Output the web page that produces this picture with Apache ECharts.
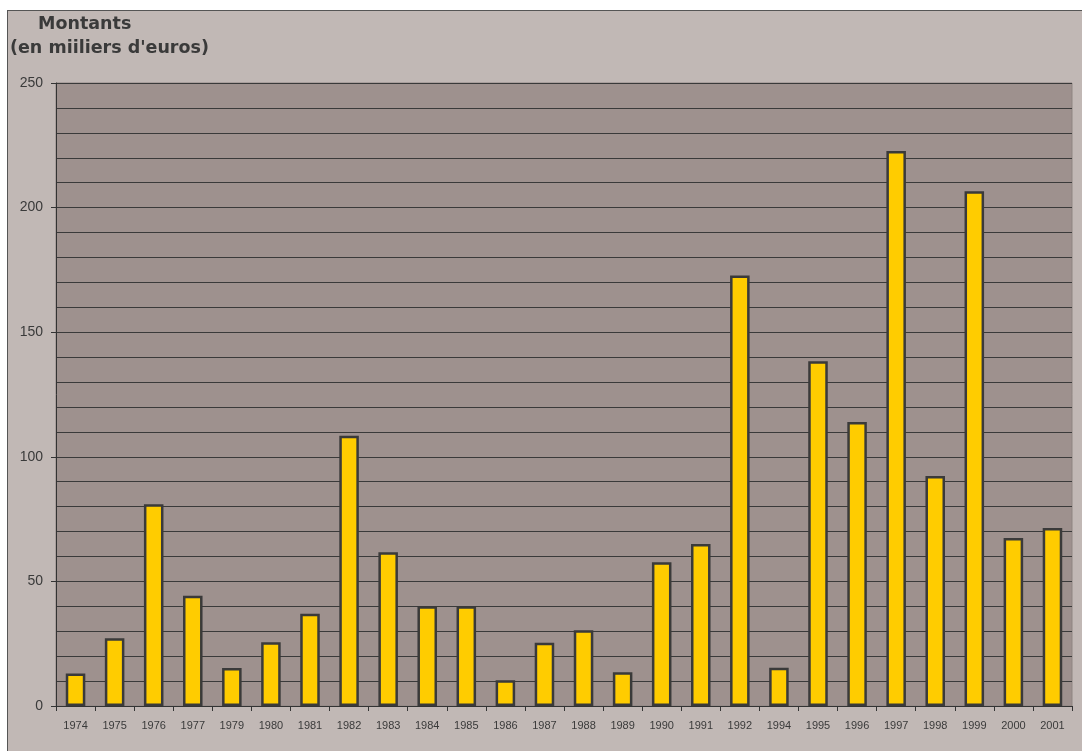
<!DOCTYPE html>
<html>
<head>
<meta charset="utf-8">
<script src="https://cdn.jsdelivr.net/npm/echarts@6/dist/echarts.min.js"></script>
<style>
  html, body { margin: 0; padding: 0; background: #fff; }
  .frame {
    position: absolute; left: 7px; top: 10px; width: 1100px; height: 760px;
    background: #c1b8b5; border: 1px solid #555;
  }
  #chart { position: absolute; left: 0; top: 0; width: 1082px; height: 751px; }
</style>
</head>
<body>
<div class="frame"></div>
<div id="chart"></div>
<script>
  // années (1978 et 1993 absentes de la série)
  const years = ['1974', '1975', '1976', '1977', '1979', '1980', '1981', '1982', '1983', '1984',
    '1985', '1986', '1987', '1988', '1989', '1990', '1991', '1992', '1994', '1995',
    '1996', '1997', '1998', '1999', '2000', '2001'];
  // montants en milliers d'euros
  const montants = [13, 27.2, 81, 44.2, 15.2, 25.6, 37, 108.4, 61.7, 40,
    40, 10.3, 25.4, 30.4, 13.5, 57.7, 65, 172.8, 15.3, 138.3,
    114, 222.7, 92.3, 206.6, 67.4, 71.4];
  const yTicks = [0, 50, 100, 150, 200, 250];

  const chart = echarts.init(document.getElementById('chart'));
  const font = '"Liberation Sans", Arial, sans-serif';
  const titleFont = 'bold 17.5px "DejaVu Sans", sans-serif';
  const option = {
    backgroundColor: 'transparent',
    animation: false,
    graphic: [
      {
        type: 'text', left: 38, top: 15,
        style: { text: 'Montants', font: titleFont, fill: '#3a3a3a' }
      },
      {
        type: 'text', left: 10, top: 39,
        style: { text: "(en miiliers d'euros)", font: titleFont, fill: '#3a3a3a' }
      }
    ],
    grid: {
      left: 56,
      right: 10,
      top: 83,
      bottom: 45,
      show: true,
      backgroundColor: '#9e918e',
      borderColor: '#8f8582',
      borderWidth: 1
    },
    xAxis: {
      type: 'category',
      data: years,
      axisLine: { lineStyle: { color: '#333', width: 1 } },
      axisTick: { show: true, alignWithLabel: false, length: 5, lineStyle: { color: '#333' } },
      axisLabel: { color: '#3a3a3a', fontSize: 11, fontFamily: font, margin: 14, interval: 0 }
    },
    yAxis: {
      type: 'value',
      min: yTicks[0],
      max: yTicks[yTicks.length - 1],
      interval: 50,
      axisLine: { show: true, lineStyle: { color: '#333', width: 1 } },
      axisTick: { show: true, length: 5, lineStyle: { color: '#333' } },
      axisLabel: { color: '#3a3a3a', fontSize: 14, fontFamily: font, margin: 13 },
      splitLine: { show: true, lineStyle: { color: '#3a3a3a', width: 1 } },
      minorTick: { show: false, splitNumber: 5 },
      minorSplitLine: { show: true, lineStyle: { color: '#3a3a3a', width: 1 } }
    },
    series: [
      {
        type: 'bar',
        data: montants,
        barWidth: '50%',
        itemStyle: { color: '#ffcc00', borderColor: '#3a3a3a', borderWidth: 2.5 }
      }
    ]
  };
  chart.setOption(option);
</script>
</body>
</html>
